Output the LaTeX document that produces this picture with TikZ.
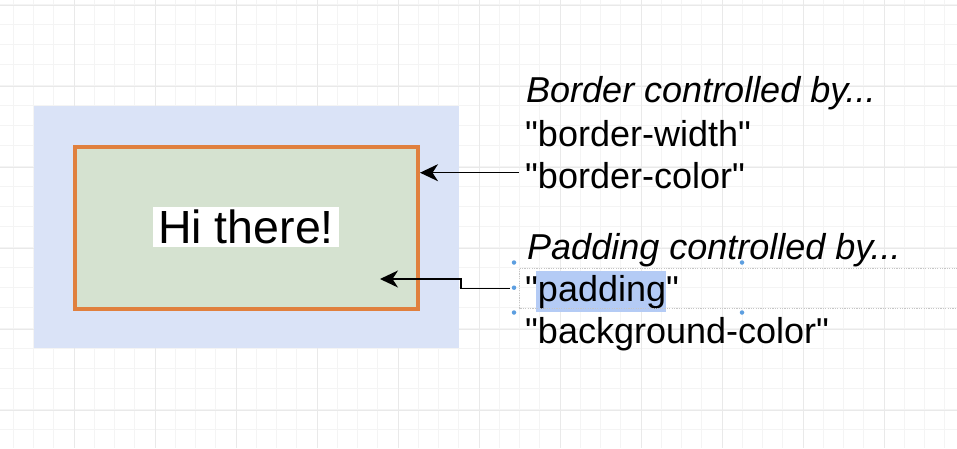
\documentclass[tikz,border=0pt]{standalone}
\usepackage{fontspec}
\newfontfamily\lib{Liberation Sans}
\usetikzlibrary{arrows.meta}
\definecolor{bgblue}{RGB}{218,227,247}
\definecolor{bggreen}{RGB}{213,226,208}
\definecolor{borange}{RGB}{224,128,62}
\definecolor{hlblue}{RGB}{180,203,245}
\definecolor{handle}{RGB}{92,158,224}
\definecolor{gridminor}{RGB}{244,244,244}
\definecolor{gridmajor}{RGB}{233,233,233}
\tikzset{
  lbl/.style={anchor=base west, inner sep=0pt, font=\lib\fontsize{36}{42}\selectfont},
  ilbl/.style={lbl, font=\lib\itshape\fontsize{36}{42}\selectfont},
  arr/.style={line width=1.5pt, -{Stealth[length=18pt,width=17pt,inset=5.5pt]}},
  hdl/.style={circle, fill=handle, inner sep=0pt, minimum size=4.5pt}
}
\begin{document}
\begin{tikzpicture}[x=1pt,y=-1pt]
\useasboundingbox (0,0) rectangle (957,448);
\fill[white] (0,0) rectangle (957,448);
% grid
\foreach \i in {0,...,47} {
  \draw[gridminor, line width=0.8pt] ({13.3+20.25*\i},0) -- ({13.3+20.25*\i},448);
}
\foreach \j in {0,...,22} {
  \draw[gridminor, line width=0.8pt] (0,{4+20.25*\j}) -- (957,{4+20.25*\j});
}
\foreach \i in {0,...,11} {
  \draw[gridmajor, line width=0.8pt] ({-7+81*\i},0) -- ({-7+81*\i},448);
}
\foreach \j in {0,...,5} {
  \draw[gridmajor, line width=0.8pt] (0,{5+81*\j}) -- (957,{5+81*\j});
}
% boxes
\node[fill=bgblue, inner sep=0pt, minimum width=425pt, minimum height=242pt] (outer) at (246.5,227) {};
\node[fill=bggreen, draw=borange, line width=4pt, inner sep=0pt, minimum width=343.5pt, minimum height=162pt] (inner) at (246.25,228) {};
\node[fill=white, inner sep=0pt, minimum width=186pt, minimum height=40.6pt, text depth=0pt, font=\lib\fontsize{46.5}{52}\selectfont] (hi) at (246,227) {Hi there!};
% right texts
\node[ilbl] (t1) at (526,102) {Border controlled by...};
\node[lbl] (t2) at (525,146) {"border-width"};
\node[lbl] (t3) at (525,188.3) {"border-color"};
\node[ilbl] (t4) at (527,259.7) {Padding controlled by...};
\fill[hlblue] (536,270.7) rectangle (665.7,312.3);
\node[lbl] (t5) at (525,301.7) {"padding"};
\node[lbl] (t6) at (525,343.3) {"background-color"};
% selection box
\draw[gray!45, line width=0.6pt, dash pattern=on 1.2pt off 1.2pt] (960,268) -- (519,268) -- (519,308) -- (960,308);
\node[hdl] (h1) at (514,262.5) {};
\node[hdl] (h2) at (514,287.7) {};
\node[hdl] (h3) at (514,312.5) {};
\node[hdl] (h4) at (742,262.5) {};
\node[hdl] (h5) at (742,312.5) {};
% arrows
\coordinate (a1) at (519,172.7);
\draw[arr] (a1) -- (a1 -| inner.east);
\coordinate (b1) at (510,288.3);
\coordinate (b2) at (461,288.3);
\coordinate (b3) at (461,279);
\coordinate (b4) at (380,279);
\draw[arr] (b1) -- (b2) -- (b3) -- (b4);
\end{tikzpicture}
\end{document}
